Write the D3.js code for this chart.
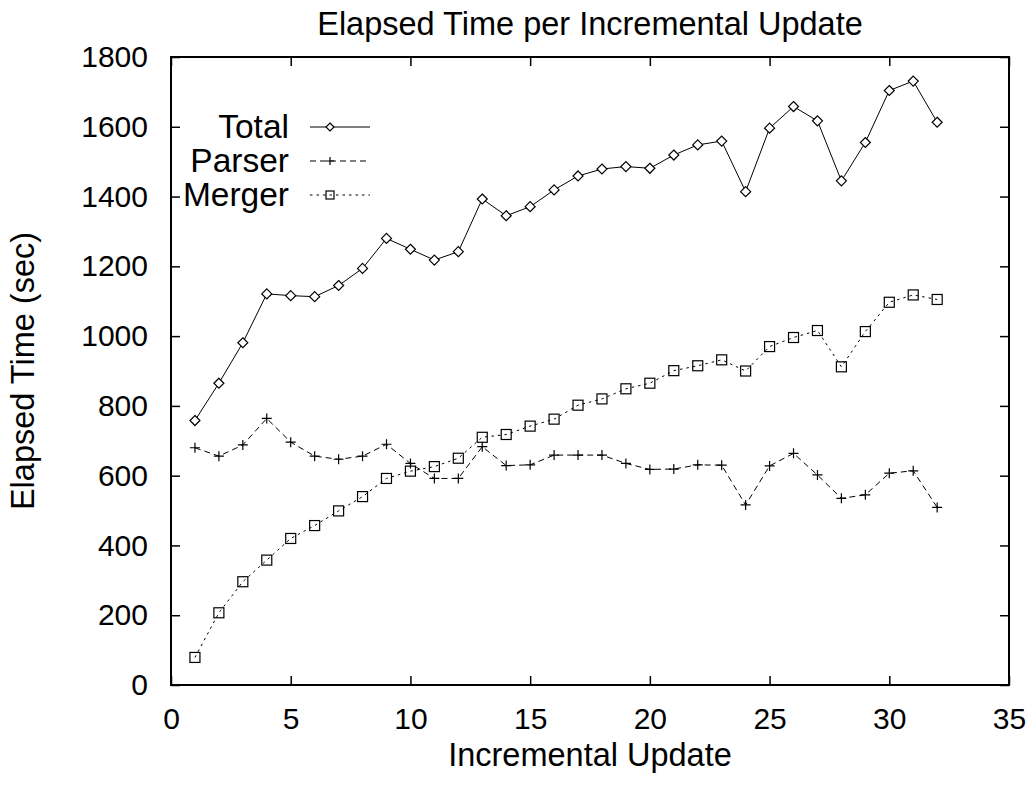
<!DOCTYPE html>
<html>
<head>
<meta charset="utf-8">
<script src="https://cdn.jsdelivr.net/npm/d3@7"></script>
<style>
  body { margin: 0; background: #fff; }
  text { font-family: "Liberation Sans", Arial, sans-serif; }
</style>
</head>
<body>
<svg id="chart" width="1031" height="801"></svg>
<script>
const updates = d3.range(1, 33);
const total = [758, 865, 981, 1121, 1116, 1113, 1145, 1194, 1280, 1249, 1218, 1242,
  1393, 1345, 1371, 1419, 1459, 1479, 1486, 1481, 1519, 1548, 1559,
  1414, 1596, 1658, 1617, 1445, 1555, 1704, 1731, 1613];
const parser = [680, 656, 688, 764, 696, 656, 647, 656, 690, 635, 592, 592,
  683, 629, 631, 659, 659, 659, 635, 618, 619, 631, 630,
  516, 628, 664, 602, 535, 545, 607, 614, 509];
const merger = [79, 207, 296, 358, 420, 457, 499, 540, 592, 613, 626, 650,
  710, 718, 742, 762, 802, 820, 849, 865, 901, 915, 932,
  900, 970, 996, 1016, 912, 1013, 1097, 1118, 1105];
const xTicks = d3.range(0, 36, 5);
const yTicks = d3.range(0, 1801, 200);

const series = [
  { name: "Total", values: total, dash: null, marker: "diamond" },
  { name: "Parser", values: parser, dash: "6,4", marker: "plus" },
  { name: "Merger", values: merger, dash: "2.5,4", marker: "square" }
];

const margin = { top: 57, right: 22, bottom: 116, left: 171 };
const width = 1031 - margin.left - margin.right;
const height = 801 - margin.top - margin.bottom;

const svg = d3.select("#chart");
const g = svg.append("g")
  .attr("transform", "translate(" + margin.left + "," + margin.top + ")");

const x = d3.scaleLinear().domain([0, 35]).range([0, width]);
const y = d3.scaleLinear().domain([0, 1800]).range([height, 0]);

// axes with inward ticks, mirrored on top and right
const tickLen = 9;
const fmt = d3.format("d");
g.append("g")
  .attr("transform", "translate(0," + height + ")")
  .call(d3.axisBottom(x).tickValues(xTicks).tickFormat(fmt).tickSizeInner(-tickLen).tickSizeOuter(0).tickPadding(23))
  .call(a => a.selectAll("text").attr("font-size", 30).attr("fill", "#000"));
g.append("g")
  .call(d3.axisTop(x).tickValues(xTicks).tickSizeInner(-tickLen).tickSizeOuter(0).tickFormat(""));
g.append("g")
  .call(d3.axisLeft(y).tickValues(yTicks).tickFormat(fmt).tickSizeInner(-tickLen).tickSizeOuter(0).tickPadding(23))
  .call(a => a.selectAll("text").attr("font-size", 30).attr("fill", "#000"));
g.append("g")
  .attr("transform", "translate(" + width + ",0)")
  .call(d3.axisRight(y).tickValues(yTicks).tickSizeInner(-tickLen).tickSizeOuter(0).tickFormat(""));
g.selectAll(".domain").remove();
g.selectAll(".tick line").attr("stroke", "#000").attr("stroke-width", 1.5);

g.append("rect")
  .attr("width", width).attr("height", height)
  .attr("fill", "none").attr("stroke", "#000").attr("stroke-width", 2);

function drawMarker(sel, type, r) {
  if (type === "diamond") {
    sel.append("path").attr("d", `M0,${-r}L${r},0L0,${r}L${-r},0Z`)
      .attr("fill", "#fff").attr("stroke", "#000").attr("stroke-width", 1.2);
  } else if (type === "square") {
    sel.append("rect").attr("x", -r).attr("y", -r).attr("width", 2 * r).attr("height", 2 * r)
      .attr("fill", "none").attr("stroke", "#000").attr("stroke-width", 1.2);
  } else {
    sel.append("path").attr("d", `M${-r},0H${r}M0,${-r}V${r}`)
      .attr("stroke", "#000").attr("stroke-width", 1.2);
  }
}

const line = d3.line().x((d, i) => x(updates[i])).y(d => y(d));

series.forEach(s => {
  g.append("path")
    .datum(s.values)
    .attr("fill", "none")
    .attr("stroke", "#000")
    .attr("stroke-width", 1)
    .attr("stroke-dasharray", s.dash)
    .attr("d", line);
  g.append("g").selectAll("g")
    .data(s.values)
    .enter().append("g")
    .attr("transform", (d, i) => "translate(" + x(updates[i]) + "," + y(d) + ")")
    .each(function () { drawMarker(d3.select(this), s.marker, 5); });
});

// legend
const legend = g.append("g").selectAll("g")
  .data(series)
  .enter().append("g")
  .attr("transform", (d, i) => "translate(0," + (70 + i * 34) + ")");
legend.append("text")
  .attr("x", 118).attr("dy", "0.33em")
  .attr("text-anchor", "end").attr("font-size", 33.5)
  .text(d => d.name);
legend.append("line")
  .attr("x1", 139).attr("x2", 199)
  .attr("stroke", "#000").attr("stroke-width", 1)
  .attr("stroke-dasharray", d => d.dash);
legend.append("g")
  .attr("transform", "translate(159,0)")
  .each(function (d) { drawMarker(d3.select(this), d.marker, 4); });

// titles
svg.append("text")
  .attr("x", margin.left + width / 2).attr("y", 35)
  .attr("text-anchor", "middle").attr("font-size", 32.5)
  .text("Elapsed Time per Incremental Update");
svg.append("text")
  .attr("x", margin.left + width / 2).attr("y", 766)
  .attr("text-anchor", "middle").attr("font-size", 32.5)
  .text("Incremental Update");
svg.append("text")
  .attr("transform", "translate(34," + (margin.top + height / 2) + ") rotate(-90)")
  .attr("text-anchor", "middle").attr("font-size", 32.5)
  .text("Elapsed Time (sec)");
</script>
</body>
</html>
